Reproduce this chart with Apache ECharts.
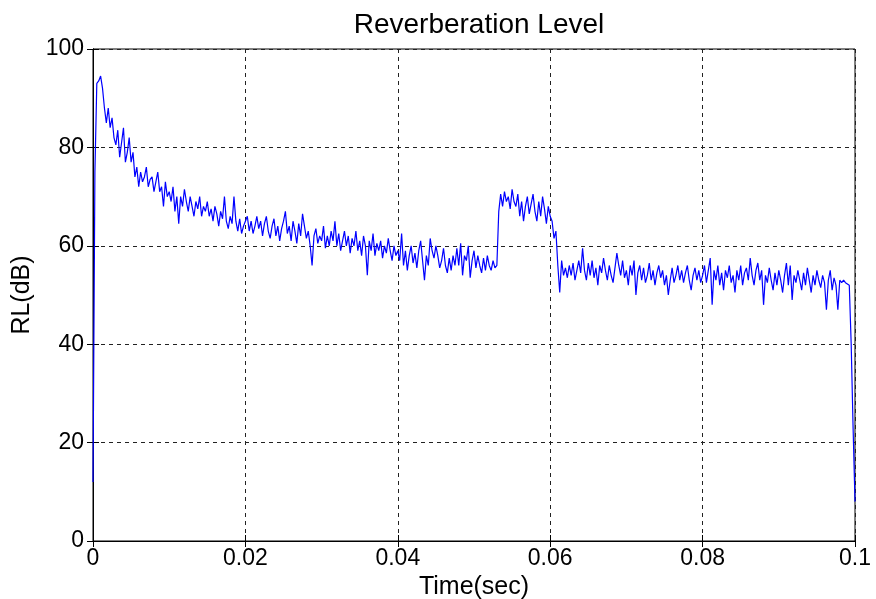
<!DOCTYPE html>
<html>
<head>
<meta charset="utf-8">
<script src="https://cdn.jsdelivr.net/npm/echarts@6/dist/echarts.min.js"></script>
<style>
html,body{margin:0;padding:0;background:#fff;}
#c{width:876px;height:599px;}
</style>
</head>
<body>
<div id="c"></div>
<script>
// Time step between samples (seconds)
var timeStart = 0;
var timeStep = 0.00025;

// Reverberation level (dB), one value per time step
var rlSeg1 = [12,75,93,93.5,94.5,92,88,85,88,84,86,82,80.5,83.5,78,81,84,77,79,82,
  77,79,74,76,72,75,73,74,76,72,73.5,74,71,73,75,71,72,68,73,70,71];
var rlSeg2 = [69,72,67,70,64.5,70,68,71.5,69,67,70,68,66,69,67.5,70,66,68,67,69,
  66,67.5,65,68,66.5,64,67,65.5,70,65,63.5,66,64.5,70,65,63,65.5,62.5,64,65];
var rlSeg3 = [66,63,65,62.5,64,66,63.5,65,62,64.5,66,63,61.5,64,65.5,62,64,61,63.5,65,
  67,62.5,64,61,65,63,60.5,64.5,62,66.5,64,61.5,63,60,56,62,63.5,60.5,62,61,
  64,59.5,62,60,63,61,65,60,62.5,59,61,63,60,62,58.5,61.5,60,63,59,61,
  58,62,60,54,61,59,62.5,58,60.5,59,61,57.5,60,58.5,61.5,59,57,60,58,59];
var rlSeg4 = [57,62.5,56,59,55,58,60,56.5,58.5,55.5,59,61,57,53,58,56,61.5,59,57.5,60,
  58,55.5,57,59.5,56,54.5,57.5,55,58,56,59.5,56,60.5,54,58,57,60,53.5,57,59,
  55.5,58,56,54.5,57.5,55,58,56,55,57,55.5,56,67,70.5,68,71,69,70,67.5,71.5,
  69,68,70.5,66,69,65,68,70,66.5,68.5,70.5,67,65,69,66,70,67.5,64.5,68,66];
var rlSeg5 = [65,61.5,63,56,50.5,57,54,55.5,53.5,56,54,56.5,53,55,57,54.5,59.5,55,53,56.5,
  54,57,53.5,55.5,52,56,54.5,57.5,55,53,56,54,52.5,55.5,58.5,56,54,57,53.5,55,
  52,56,54,57,50,54.5,56,53,55.5,52.5,54,56.5,53,55,52,54.5,56,53.5,55,52,
  54,50,53,55.5,52.5,54,56,53,55,52.5,54.5,56,53,51,54,55.5,53,55,52.5,54];
var rlSeg6 = [56,52.5,55,57.5,48,55,53,56,52,54.5,51,55,53.5,56,52.5,54,50.5,55,53,56,
  52,54.5,55.5,53,57.5,54,52,55,56.5,53,55,48,54,52.5,55.5,53,51,54.5,52,55,
  53,50.5,54,56.5,52,56,49,54,52.5,55,53,51,54.5,52,55.5,53,50.5,54,52,55,
  53,51.5,54,52.5,47,53,55,51,53.5,52,47,53,52.5,53,52.5,52.5,52,40,23,8];

// Axis ticks
var xTicks = [0, 0.02, 0.04, 0.06, 0.08, 0.1];
var yTicks = [0, 20, 40, 60, 80, 100];

var rl = [].concat(rlSeg1, rlSeg2, rlSeg3, rlSeg4, rlSeg5, rlSeg6);
var pts = rl.map(function (v, i) { return [timeStart + i * timeStep, v]; });

var font = 'Liberation Sans, Arial, sans-serif';
var gridLine = {show: true, lineStyle: {color: '#222', type: [4, 4], width: 1}};

var chart = echarts.init(document.getElementById('c'), null, {renderer: 'canvas'});
chart.setOption({
  animation: false,
  backgroundColor: '#fff',
  title: {
    text: 'Reverberation Level',
    left: 474, top: 6, textAlign: 'center',
    textStyle: {fontFamily: font, fontSize: 28, fontWeight: 'normal', color: '#000'}
  },
  grid: {left: 93, right: 21, top: 49, bottom: 58, outerBoundsMode: 'none', containLabel: false,
    show: true, borderColor: '#000', borderWidth: 1, backgroundColor: '#fff'},
  xAxis: [{
    type: 'value', min: xTicks[0], max: xTicks[xTicks.length - 1], interval: xTicks[1] - xTicks[0],
    name: 'Time(sec)', nameLocation: 'middle', nameGap: 28,
    nameTextStyle: {fontFamily: font, fontSize: 25, color: '#000'},
    axisLine: {show: true, onZero: false, lineStyle: {color: '#000'}},
    axisTick: {show: true, inside: true, length: 6, lineStyle: {color: '#000'}},
    axisLabel: {fontFamily: font, fontSize: 23, color: '#000', margin: 6,
      formatter: function (v) { return String(+v.toFixed(2)); }},
    splitLine: gridLine
  }, {
    type: 'value', position: 'top', min: xTicks[0], max: xTicks[xTicks.length - 1], interval: xTicks[1] - xTicks[0],
    axisLine: {show: true, lineStyle: {color: '#000'}},
    axisTick: {show: true, inside: true, length: 6, lineStyle: {color: '#000'}},
    axisLabel: {show: false}, splitLine: {show: false}
  }],
  yAxis: [{
    type: 'value', min: yTicks[0], max: yTicks[yTicks.length - 1], interval: yTicks[1] - yTicks[0],
    name: 'RL(dB)', nameLocation: 'middle', nameGap: 57, nameRotate: 90,
    nameTextStyle: {fontFamily: font, fontSize: 25, color: '#000'},
    axisLine: {show: true, lineStyle: {color: '#000'}},
    axisTick: {show: true, inside: true, length: 6, lineStyle: {color: '#000'}},
    axisLabel: {fontFamily: font, fontSize: 23, color: '#000', margin: 9},
    splitLine: gridLine
  }, {
    type: 'value', position: 'right', min: yTicks[0], max: yTicks[yTicks.length - 1], interval: yTicks[1] - yTicks[0],
    axisLine: {show: true, lineStyle: {color: '#000'}},
    axisTick: {show: true, inside: true, length: 6, lineStyle: {color: '#000'}},
    axisLabel: {show: false}, splitLine: {show: false}
  }],
  series: [{
    type: 'line', data: pts, showSymbol: false, symbol: 'none',
    lineStyle: {color: '#0000ff', width: 1.2}, itemStyle: {color: '#0000ff'}
  }]
});
</script>
</body>
</html>
